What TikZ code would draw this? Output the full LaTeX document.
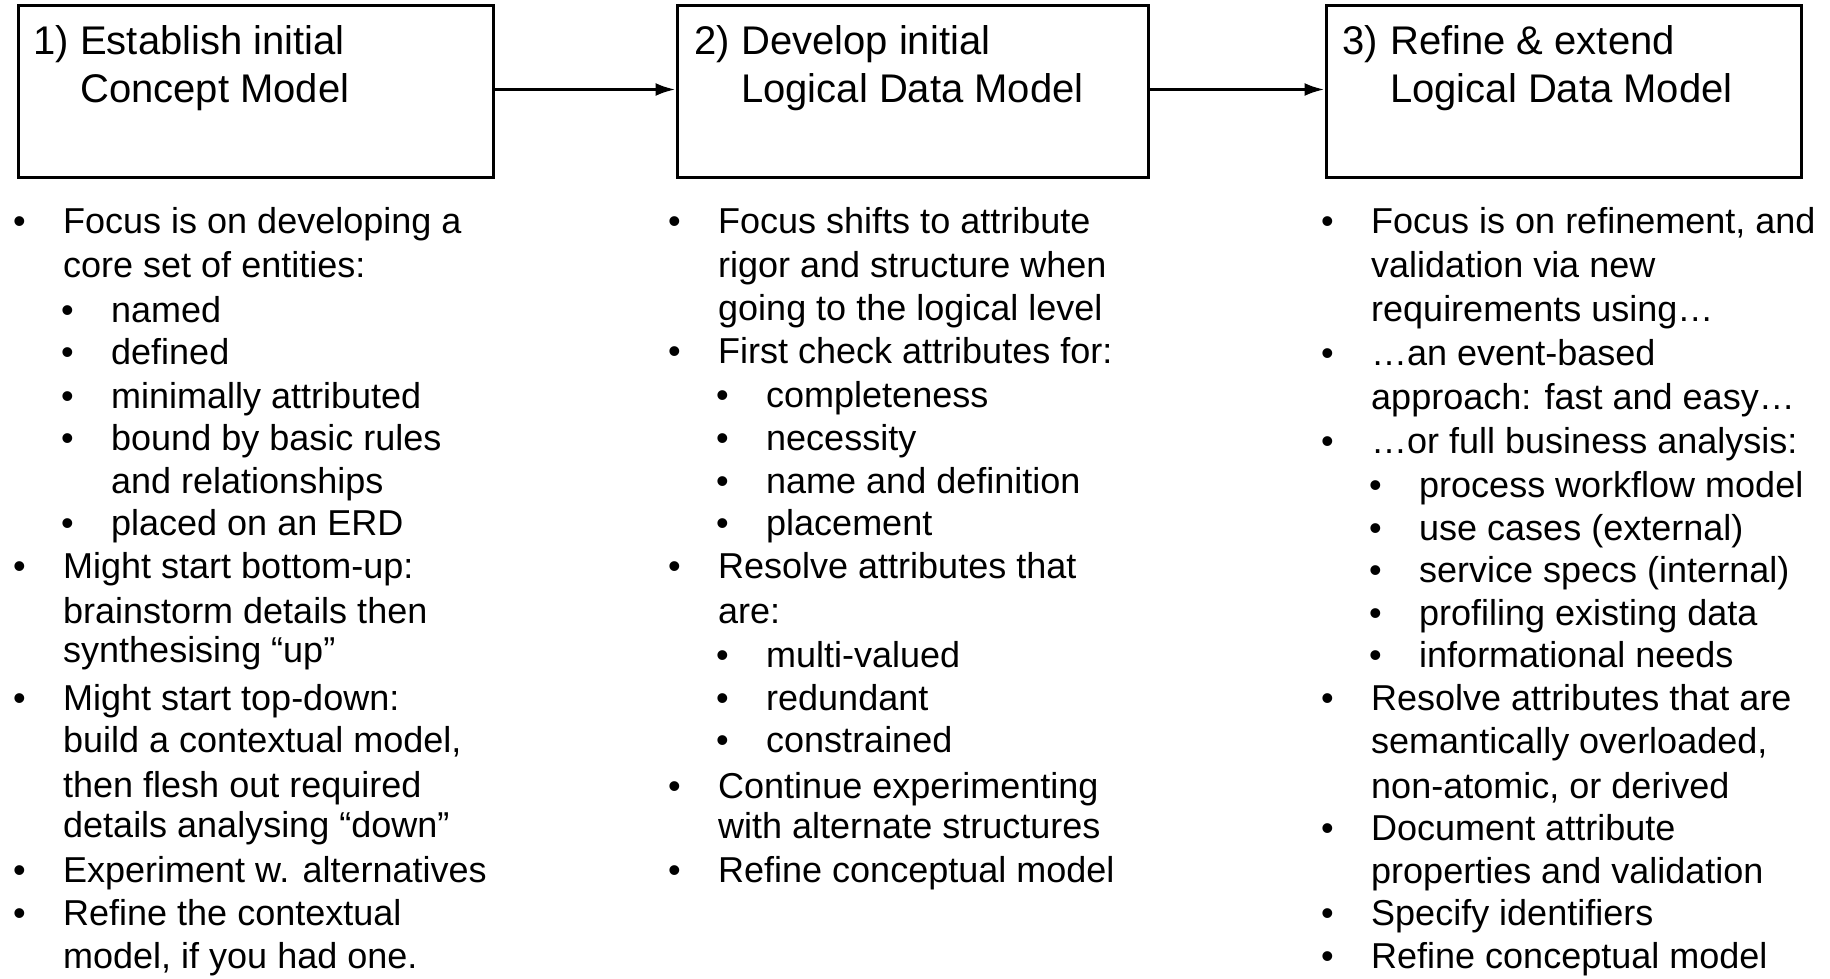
\documentclass[tikz,border=0pt]{standalone}
\usepackage{fontspec}
\setmainfont{Liberation Sans}
\usetikzlibrary{arrows.meta}
\tikzset{
  stagebox/.style={draw=black, line width=3pt, minimum width=475pt, minimum height=171pt, inner sep=0pt},
  titletext/.style={anchor=base west, inner sep=0pt, font=\fontsize{40}{48}\selectfont},
  bodytext/.style={anchor=base west, inner sep=0pt, font=\fontsize{36}{43}\selectfont},
  flowarrow/.style={line width=3pt, -{Latex[length=20pt,width=13pt]}}
}
% main bullet line: name, y, text
\newcommand\mitem[3]{\node[bodytext] (#1d) at (13,#2) {•}; \node[bodytext] (#1) at (63,#2) {#3};}
% continuation of a main bullet
\newcommand\mcont[3]{\node[bodytext] (#1) at (63,#2) {#3};}
% sub bullet line
\newcommand\sitem[3]{\node[bodytext] (#1d) at (61,#2) {•}; \node[bodytext] (#1) at (111,#2) {#3};}
% continuation of a sub bullet
\newcommand\scont[3]{\node[bodytext] (#1) at (111,#2) {#3};}
\begin{document}
\begin{tikzpicture}[x=1pt, y=-1pt]
\useasboundingbox (0,0) rectangle (1830,979);

% boxes
\node[stagebox] (b1) at (255.5,91.5) {};
\node[stagebox, minimum width=471pt] (b2) at (912.5,91.5) {};
\node[stagebox] (b3) at (1563.5,91.5) {};

% titles
\node[titletext] (t1n) at (33,55) {1)};
\node[titletext] (t1a) at (80,55) {Establish initial};
\node[titletext] (t1b) at (80,103) {Concept Model};
\node[titletext] (t2n) at (694,55) {2)};
\node[titletext] (t2a) at (741,55) {Develop initial};
\node[titletext] (t2b) at (741,103) {Logical Data Model};
\node[titletext] (t3n) at (1342,55) {3)};
\node[titletext] (t3a) at (1390,55) {Refine \& extend};
\node[titletext] (t3b) at (1390,103) {Logical Data Model};

% arrows
\draw[flowarrow] ([yshift=2pt]b1.east) -- ([yshift=2pt]b2.west);
\draw[flowarrow] ([yshift=2pt]b2.east) -- ([yshift=2pt]b3.west);

% column 1
\begin{scope}
\mitem{a1}{233}{Focus is on developing a}
\mcont{a2}{277}{core set of entities:}
\sitem{a3}{322}{named}
\sitem{a4}{364}{defined}
\sitem{a5}{408}{minimally attributed}
\sitem{a6}{450}{bound by basic rules}
\scont{a7}{493}{and relationships}
\sitem{a8}{535}{placed on an ERD}
\mitem{a9}{578}{Might start bottom-up:}
\mcont{a10}{623}{brainstorm details then}
\mcont{a11}{662}{synthesising “up”}
\mitem{a12}{710}{Might start top-down:}
\mcont{a13}{752}{build a contextual model,}
\mcont{a14}{797}{then flesh out required}
\mcont{a15}{837}{details analysing “down”}
\mitem{a16}{882}{Experiment w. alternatives}
\mitem{a17}{925}{Refine the contextual}
\mcont{a18}{968}{model, if you had one.}
\end{scope}

% column 2
\begin{scope}[xshift=655pt]
\mitem{c1}{233}{Focus shifts to attribute}
\mcont{c2}{277}{rigor and structure when}
\mcont{c3}{320}{going to the logical level}
\mitem{c4}{363}{First check attributes for:}
\sitem{c5}{407}{completeness}
\sitem{c6}{450}{necessity}
\sitem{c7}{493}{name and definition}
\sitem{c8}{535}{placement}
\mitem{c9}{578}{Resolve attributes that}
\mcont{c10}{623}{are:}
\sitem{c11}{667}{multi-valued}
\sitem{c12}{710}{redundant}
\sitem{c13}{752}{constrained}
\mitem{c14}{798}{Continue experimenting}
\mcont{c15}{838}{with alternate structures}
\mitem{c16}{882}{Refine conceptual model}
\end{scope}

% column 3
\begin{scope}[xshift=1308pt]
\mitem{e1}{233}{Focus is on refinement, and}
\mcont{e2}{277}{validation via new}
\mcont{e3}{321}{requirements using…}
\mitem{e4}{365}{…an event-based}
\mcont{e5}{409}{approach: fast and easy…}
\mitem{e6}{453}{…or full business analysis:}
\sitem{e7}{497}{process workflow model}
\sitem{e8}{540}{use cases (external)}
\sitem{e9}{582}{service specs (internal)}
\sitem{e10}{625}{profiling existing data}
\sitem{e11}{667}{informational needs}
\mitem{e12}{710}{Resolve attributes that are}
\mcont{e13}{753}{semantically overloaded,}
\mcont{e14}{798}{non-atomic, or derived}
\mitem{e15}{840}{Document attribute}
\mcont{e16}{883}{properties and validation}
\mitem{e17}{925}{Specify identifiers}
\mitem{e18}{968}{Refine conceptual model}
\end{scope}
\end{tikzpicture}
\end{document}
